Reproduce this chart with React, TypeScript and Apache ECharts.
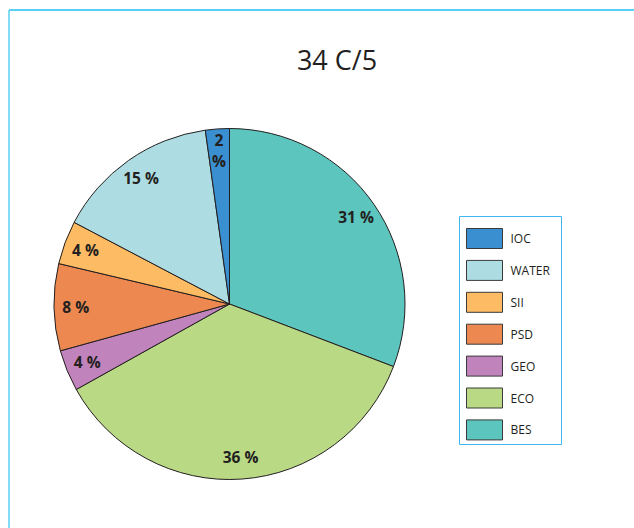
import React, { useEffect, useRef } from "react";
import * as echarts from "echarts";

const titleText = "34 C/5";
const sliceNames = ["BES", "ECO", "GEO", "PSD", "SII", "WATER", "IOC"];
const sliceValues = [30.8, 36.1, 3.8, 8.0, 4.0, 15.1, 2.2];
const sliceColors = ["#5cc5bd", "#b9d985", "#c183bb", "#ec8850", "#fdbb63", "#addde3", "#3a8fd0"];
const legendOrder = ["IOC", "WATER", "SII", "PSD", "GEO", "ECO", "BES"];

export default function App() {
  const ref = useRef<HTMLDivElement>(null);
  useEffect(() => {
    if (!ref.current) return;
    const chart = echarts.init(ref.current, null, { renderer: "svg" });
    const data = sliceNames.map((n, i) => ({
      name: n,
      value: sliceValues[i],
      itemStyle: { color: sliceColors[i] },
    }));
    const labelData = sliceNames.map((n, i) => ({ name: n, value: sliceValues[i] }));
    chart.setOption({
      animation: false,
      graphic: [
        { type: "line", shape: { x1: 9, y1: 10, x2: 634, y2: 10 }, style: { stroke: "#22c0f2", lineWidth: 1.5 } },
        { type: "line", shape: { x1: 9, y1: 10, x2: 9, y2: 528 }, style: { stroke: "#5ccff5", lineWidth: 1.5 } },
        { type: "rect", shape: { x: 459.5, y: 216.5, width: 102, height: 228 }, style: { fill: "none", stroke: "#3fb6ee", lineWidth: 1 } },
        {
          type: "text",
          x: 337,
          y: 59,
          style: {
            text: titleText,
            textAlign: "center",
            textVerticalAlign: "middle",
            fontFamily: "Open Sans",
            fontSize: 27,
            fill: "#231f20",
          },
        },
      ],
      legend: {
        data: legendOrder,
        orient: "vertical",
        left: 466,
        top: 228,
        padding: 0,
        itemWidth: 36,
        itemHeight: 20,
        itemGap: 10.9,
        icon: "rect",
        selectedMode: false,
        itemStyle: { borderColor: "#3a3a3a", borderWidth: 1 },
        textStyle: { fontFamily: "Open Sans", fontSize: 12, color: "#231f20", padding: [0, 0, 0, 3] },
      },
      series: [
        {
          type: "pie",
          center: [229.5, 304],
          radius: [0, 175.5],
          startAngle: 90,
          clockwise: true,
          silent: true,
          label: { show: false },
          labelLine: { show: false },
          itemStyle: { borderColor: "#231f20", borderWidth: 1 },
          emphasis: { disabled: true },
          data,
        },
        {
          type: "pie",
          center: [229.5, 304],
          radius: [126, 175.5],
          startAngle: 90,
          clockwise: true,
          silent: true,
          itemStyle: { color: "transparent", borderWidth: 0 },
          emphasis: { disabled: true },
          labelLine: { show: false },
          label: {
            show: true,
            position: "inside",
            fontFamily: "Open Sans",
            fontWeight: "bold",
            fontSize: 15.5,
            lineHeight: 21,
            color: "#231f20",
            formatter: (p: any) => {
              const v = Math.round(p.percent);
              return p.name === "IOC" ? v + "\n%" : v + " %";
            },
          },
          data: labelData,
        },
      ],
    });
    return () => chart.dispose();
  }, []);
  return (
    <div
      ref={ref}
      style={{ position: "fixed", left: 0, top: 0, width: 634, height: 528, background: "#fff" }}
    />
  );
}
